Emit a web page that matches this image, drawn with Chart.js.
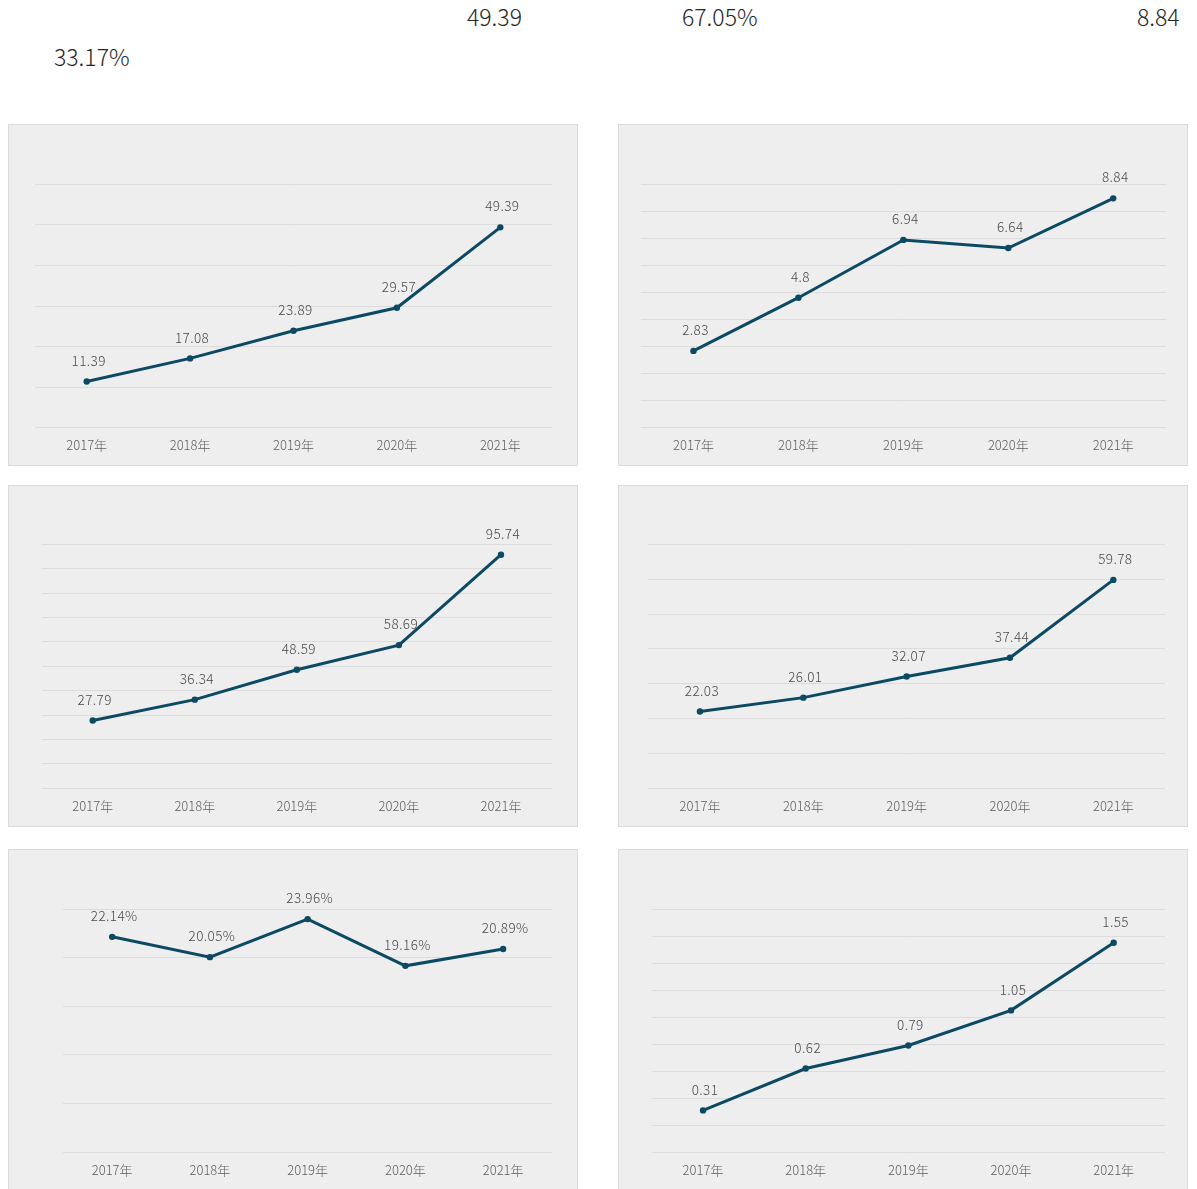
<!DOCTYPE html>
<html>
<head>
<meta charset="utf-8">
<script src="https://cdn.jsdelivr.net/npm/chart.js@4.4.1/dist/chart.umd.min.js"></script>
<style>
  html, body { margin: 0; padding: 0; background: #ffffff; width: 1197px; height: 1189px; overflow: hidden; }
  body { position: relative; font-family: "Noto Sans CJK SC", "Noto Sans", sans-serif; }
  .panel { position: absolute; box-sizing: border-box; border: 1px solid #dadada; background: #eeeeee; }
  canvas.c { position: absolute; }
  .top { position: absolute; font-size: 23px; color: #262626; font-weight: 300; line-height: 1; white-space: nowrap; letter-spacing: 0px; }
</style>
</head>
<body>
<div class="top" style="left:54px; top:45px;">33.17%</div>
<div class="top" style="left:467px; top:5px;">49.39</div>
<div class="top" style="left:682px; top:5px;">67.05%</div>
<div class="top" style="left:1137px; top:5px;">8.84</div>
<div id="root"></div>
<script>
// ---- data ----
const years = ["2017年", "2018年", "2019年", "2020年", "2021年"];

const series1 = [11.39, 17.08, 23.89, 29.57, 49.39];
const labels1 = ["11.39", "17.08", "23.89", "29.57", "49.39"];

const series2 = [2.83, 4.8, 6.94, 6.64, 8.48];
const labels2 = ["2.83", "4.8", "6.94", "6.64", "8.84"];

const series3 = [27.79, 36.34, 48.59, 58.69, 95.74];
const labels3 = ["27.79", "36.34", "48.59", "58.69", "95.74"];

const series4 = [22.03, 26.01, 32.07, 37.44, 59.78];
const labels4 = ["22.03", "26.01", "32.07", "37.44", "59.78"];

const series5 = [22.14, 20.05, 23.96, 19.16, 20.89];
const labels5 = ["22.14%", "20.05%", "23.96%", "19.16%", "20.89%"];

const series6 = [0.31, 0.62, 0.79, 1.05, 1.55];
const labels6 = ["0.31", "0.62", "0.79", "1.05", "1.55"];

const axisMax = [60, 9, 100, 70, 25, 1.8];
const axisStep = [10, 1, 10, 10, 5, 0.2];

// ---- layout (panel rect and plot area) ----
const panels = [
  { x: 8,   y: 124, w: 570, h: 342, l: 35,    r: 552,    t: 184.3, b: 427.7 },
  { x: 618, y: 124, w: 570, h: 342, l: 641,   r: 1165.7, t: 184.3, b: 427.3 },
  { x: 8,   y: 485, w: 570, h: 342, l: 41.7,  r: 552,    t: 544.3, b: 788.3 },
  { x: 618, y: 485, w: 570, h: 342, l: 648.3, r: 1165,   t: 544.3, b: 788.3 },
  { x: 8,   y: 849, w: 570, h: 342, l: 63.3,  r: 552,    t: 909,   b: 1152.3 },
  { x: 618, y: 849, w: 570, h: 342, l: 651.7, r: 1165,   t: 909,   b: 1152.3 }
];

const allSeries = [series1, series2, series3, series4, series5, series6];
const allLabels = [labels1, labels2, labels3, labels4, labels5, labels6];

const LINE = "#0c4a64";

const pointLabelPlugin = {
  id: "pointLabels",
  afterDatasetsDraw(chart) {
    const txt = chart.options.plugins.pointLabels.texts;
    const meta = chart.getDatasetMeta(0);
    const ctx = chart.ctx;
    ctx.save();
    ctx.font = "300 13.5px 'Noto Sans CJK SC', 'Noto Sans', sans-serif";
    try { ctx.letterSpacing = "0.4px"; } catch (e) {}
    ctx.fillStyle = "#4a4a4a";
    ctx.textAlign = "center";
    ctx.textBaseline = "middle";
    meta.data.forEach((pt, i) => {
      ctx.fillText(txt[i], pt.x + 2, pt.y - 21);
    });
    ctx.restore();
  }
};

const root = document.getElementById("root");
panels.forEach((p, i) => {
  const div = document.createElement("div");
  div.className = "panel";
  div.style.left = p.x + "px"; div.style.top = p.y + "px";
  div.style.width = p.w + "px"; div.style.height = p.h + "px";
  root.appendChild(div);

  const cv = document.createElement("canvas");
  cv.className = "c";
  cv.style.left = p.x + "px"; cv.style.top = p.y + "px";
  cv.style.width = p.w + "px"; cv.style.height = p.h + "px";
  cv.width = p.w; cv.height = p.h;
  root.appendChild(cv);

  const xAxisH = (p.y + p.h) - p.b;
  new Chart(cv, {
    type: "line",
    data: {
      labels: years,
      datasets: [{
        data: allSeries[i],
        borderColor: LINE,
        backgroundColor: LINE,
        borderWidth: 3,
        pointRadius: 3.2,
        pointBackgroundColor: LINE,
        pointBorderWidth: 0,
        tension: 0,
        fill: false
      }]
    },
    options: {
      responsive: false,
      animation: false,
      devicePixelRatio: 1,
      layout: { padding: { left: p.l - p.x, right: (p.x + p.w) - p.r, top: p.t - p.y, bottom: 0 } },
      plugins: {
        legend: { display: false },
        tooltip: { enabled: false },
        pointLabels: { texts: allLabels[i] }
      },
      scales: {
        x: {
          offset: true,
          grid: { display: false, drawTicks: false },
          border: { display: false },
          ticks: {
            color: "#606060",
            padding: 10,
            maxRotation: 0,
            font: { family: "'Noto Sans CJK SC', 'Noto Sans', sans-serif", size: 13, weight: 300 }
          },
          afterFit(s) { s.height = xAxisH; }
        },
        y: {
          min: 0,
          max: axisMax[i],
          ticks: { display: false, stepSize: axisStep[i] },
          grid: { color: "#dcdcdc", lineWidth: 1, drawTicks: false },
          border: { display: false },
          afterFit(s) { s.width = 0; }
        }
      }
    },
    plugins: [pointLabelPlugin]
  });
});
</script>
</body>
</html>
